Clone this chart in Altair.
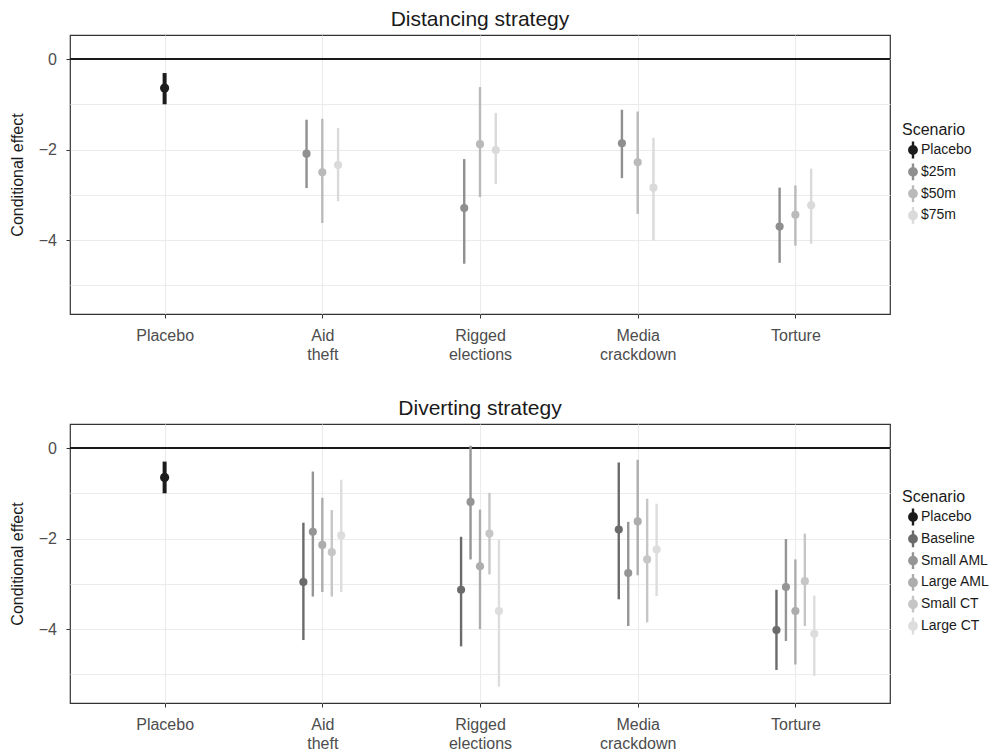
import json
import altair as alt
import pandas as pd

FONT = "Liberation Sans"

categories = ["Placebo", "Aid theft", "Rigged elections", "Media crackdown", "Torture"]
category_lines = [["Placebo"], ["Aid", "theft"], ["Rigged", "elections"], ["Media", "crackdown"], ["Torture"]]

# ---- Distancing strategy ----
dist_scenarios = ["Placebo", "$25m", "$50m", "$75m"]
dist_colors = ["#1c1c1c", "#8f8f8f", "#bababa", "#dadada"]
dist_category = ["Placebo",
                 "Aid theft", "Aid theft", "Aid theft",
                 "Rigged elections", "Rigged elections", "Rigged elections",
                 "Media crackdown", "Media crackdown", "Media crackdown",
                 "Torture", "Torture", "Torture"]
dist_scenario = ["Placebo",
                 "$25m", "$50m", "$75m",
                 "$25m", "$50m", "$75m",
                 "$25m", "$50m", "$75m",
                 "$25m", "$50m", "$75m"]
dist_est = [-0.64, -2.09, -2.50, -2.34, -3.29, -1.88, -2.01, -1.86, -2.28, -2.84, -3.70, -3.44, -3.23]
dist_lo = [-1.00, -2.85, -3.62, -3.14, -4.52, -3.05, -2.76, -2.63, -3.42, -4.01, -4.50, -4.12, -4.08]
dist_hi = [-0.31, -1.34, -1.32, -1.52, -2.21, -0.62, -1.19, -1.12, -1.16, -1.74, -2.84, -2.79, -2.42]

# ---- Diverting strategy ----
div_scenarios = ["Placebo", "Baseline", "Small AML", "Large AML", "Small CT", "Large CT"]
div_colors = ["#1c1c1c", "#6b6b6b", "#959595", "#adadad", "#c6c6c6", "#dddddd"]
div_category = ["Placebo"] + ["Aid theft"] * 5 + ["Rigged elections"] * 5 + ["Media crackdown"] * 5 + ["Torture"] * 5
div_scenario = ["Placebo"] + ["Baseline", "Small AML", "Large AML", "Small CT", "Large CT"] * 4
div_est = [-0.65,
           -2.96, -1.85, -2.14, -2.30, -1.93,
           -3.13, -1.19, -2.61, -1.89, -3.60,
           -1.80, -2.76, -1.62, -2.46, -2.24,
           -4.02, -3.07, -3.60, -2.94, -4.10]
div_lo = [-1.00,
          -4.24, -3.28, -3.18, -3.28, -3.18,
          -4.38, -2.46, -4.00, -2.79, -5.27,
          -3.34, -3.93, -2.81, -3.85, -3.27,
          -4.90, -4.26, -4.78, -3.93, -5.03]
div_hi = [-0.30,
          -1.65, -0.52, -1.10, -1.37, -0.70,
          -1.96, 0.05, -1.36, -0.99, -2.02,
          -0.32, -1.63, -0.26, -1.12, -1.23,
          -3.13, -2.01, -2.46, -1.89, -3.26]


def build_table(cats, scens, est, lo, hi, order, step):
    dodged = order[1:]
    center = (len(dodged) - 1) / 2
    rows = []
    for c, s, e, l, h in zip(cats, scens, est, lo, hi):
        off = 0.0 if s == "Placebo" else (dodged.index(s) - center) * step
        rows.append({"category": c, "scenario": s, "est": e, "lo": l, "hi": h,
                     "xpos": categories.index(c) + off})
    return pd.DataFrame(rows)


x_scale = alt.Scale(domain=[-0.6, 4.6], nice=False, zero=False)
y_scale = alt.Scale(domain=[-5.63, 0.53], nice=False, zero=False)

x_axis = alt.Axis(
    values=[0, 1, 2, 3, 4],
    labelExpr=json.dumps(category_lines) + "[datum.value]",
    title=None, grid=True, gridColor="#ebebeb", gridWidth=1.1,
    domain=False, tickColor="#333333", tickSize=4, labelPadding=9,
    labelFont=FONT, labelFontSize=16, labelColor="#4d4d4d", labelLineHeight=19,
    labelAngle=0,
)
y_axis = alt.Axis(
    values=[-5, -4, -3, -2, -1, 0],
    labelExpr="datum.value % 2 == 0 ? format(datum.value, 'd') : ''",
    tickOpacity={"condition": {"test": "datum.value % 2 != 0", "value": 0}, "value": 1},
    title="Conditional effect", titleFont=FONT, titleFontSize=16, titleFontWeight="normal",
    titleColor="#1a1a1a", titlePadding=13.5, minExtent=31, maxExtent=31,
    grid=True, gridColor="#ebebeb", gridWidth=1.1,
    domain=False, tickColor="#333333", tickSize=4, labelPadding=9.5,
    labelFont=FONT, labelFontSize=16, labelColor="#4d4d4d",
)

SYMBOL = "M-0.17,-1.2H0.17V1.2H-0.17Z M0.7,0A0.7,0.7 0 1,1 -0.7,0A0.7,0.7 0 1,1 0.7,0Z"


def panel(df, title, order, colors, legend_y):
    legend = alt.Legend(
        title="Scenario", orient="none", legendX=832, legendY=legend_y,
        symbolType=SYMBOL, symbolSize=196, symbolStrokeWidth=0, symbolOpacity=1,
        symbolOffset=4, labelOffset=1, rowPadding=3.8, titlePadding=5, padding=0,
        labelFont=FONT, labelFontSize=14, labelColor="#1a1a1a",
        titleFont=FONT, titleFontSize=16, titleFontWeight="normal", titleColor="#1a1a1a",
    )
    color = alt.Color("scenario:N", scale=alt.Scale(domain=order, range=colors), legend=legend)
    base = alt.Chart(df)
    zero = alt.Chart(pd.DataFrame({"ref": [0]})).mark_rule(color="#1a1a1a", strokeWidth=2).encode(
        y=alt.Y("ref:Q", scale=y_scale, axis=y_axis)
    )
    rules = base.mark_rule().encode(
        x=alt.X("xpos:Q", scale=x_scale, axis=x_axis),
        y=alt.Y("lo:Q", scale=y_scale, axis=y_axis),
        y2="hi:Q",
        color=color,
        strokeWidth=alt.condition(alt.datum.scenario == "Placebo", alt.value(4), alt.value(2.4)),
    )
    points = base.mark_circle(opacity=1).encode(
        x=alt.X("xpos:Q", scale=x_scale, axis=x_axis),
        y=alt.Y("est:Q", scale=y_scale, axis=y_axis),
        color=color,
        size=alt.condition(alt.datum.scenario == "Placebo", alt.value(85), alt.value(66)),
    )
    return alt.layer(zero, rules, points).properties(
        width=820, height=279,
        title=alt.Title(title, font=FONT, fontSize=21, fontWeight="normal", color="#1a1a1a",
                        anchor="middle", frame="group", offset=5),
    )


dist_df = build_table(dist_category, dist_scenario, dist_est, dist_lo, dist_hi, dist_scenarios, 0.1)
div_df = build_table(div_category, div_scenario, div_est, div_lo, div_hi, div_scenarios, 0.06)

top = panel(dist_df, "Distancing strategy", dist_scenarios, dist_colors, 87)
bottom = panel(div_df, "Diverting strategy", div_scenarios, div_colors, 65)

chart = alt.vconcat(top, bottom, spacing=34).resolve_scale(
    color="independent"
).resolve_legend(color="independent").properties(
    padding={"left": 0, "top": 0, "right": 0, "bottom": 0},
    background="white",
).configure_view(stroke="#333333", strokeWidth=1.2)

chart.save("out.html", embed_options={"renderer": "svg", "actions": False})
